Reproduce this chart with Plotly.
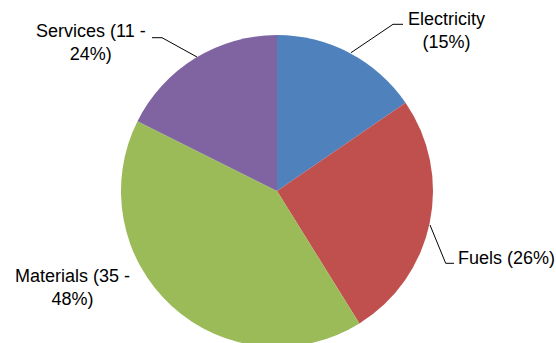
import plotly.graph_objects as go

# ---- data ----
categories = ["Electricity", "Fuels", "Materials", "Services"]
shares = [15.4, 25.7, 41.2, 17.6]
label_texts = ["Electricity<br>(15%)", "Fuels (26%)", "Materials (35 -<br>48%)", "Services (11 -<br>24%)"]
colors = ["#4F81BD", "#C0504D", "#9BBB59", "#8064A2"]

W, H = 556, 350

def px(x):
    return x / W

def py(y):
    return 1 - y / H

fig = go.Figure()
fig.add_trace(go.Pie(
    labels=categories,
    values=shares,
    sort=False,
    direction="clockwise",
    rotation=0,
    marker=dict(colors=colors, line=dict(width=0)),
    textinfo="none",
    hoverinfo="label+percent",
    showlegend=False,
    domain=dict(x=[px(121), px(433)], y=[py(347), py(35)]),
))

# label placement (pixel centres)
label_pos = [(446, 30.5), (506.5, 258), (72.5, 287), (91, 42.5)]
for txt, (lx, ly) in zip(label_texts, label_pos):
    fig.add_annotation(
        text=txt, x=px(lx), y=py(ly), xref="paper", yref="paper",
        xanchor="center", yanchor="middle", showarrow=False, align="center",
        font=dict(family="Liberation Sans, Arial, sans-serif", size=18, color="#000000"),
    )

# leader lines
leaders = [
    [(403, 24.3), (393, 24.3), (351, 52.7)],
    [(430, 225), (445.7, 263.3), (454, 263.3)],
    [(152, 37.7), (162, 37.7), (197, 57)],
]
for pts in leaders:
    path = "M " + " L ".join(f"{px(x)},{py(y)}" for x, y in pts)
    fig.add_shape(type="path", path=path, xref="paper", yref="paper",
                  line=dict(color="#000000", width=1))

fig.update_layout(
    width=W, height=H,
    margin=dict(l=0, r=0, t=0, b=0),
    paper_bgcolor="#FFFFFF",
    plot_bgcolor="#FFFFFF",
)

fig.write_html("out.html", post_script="document.body.style.overflow='hidden';document.body.style.margin='0';")
